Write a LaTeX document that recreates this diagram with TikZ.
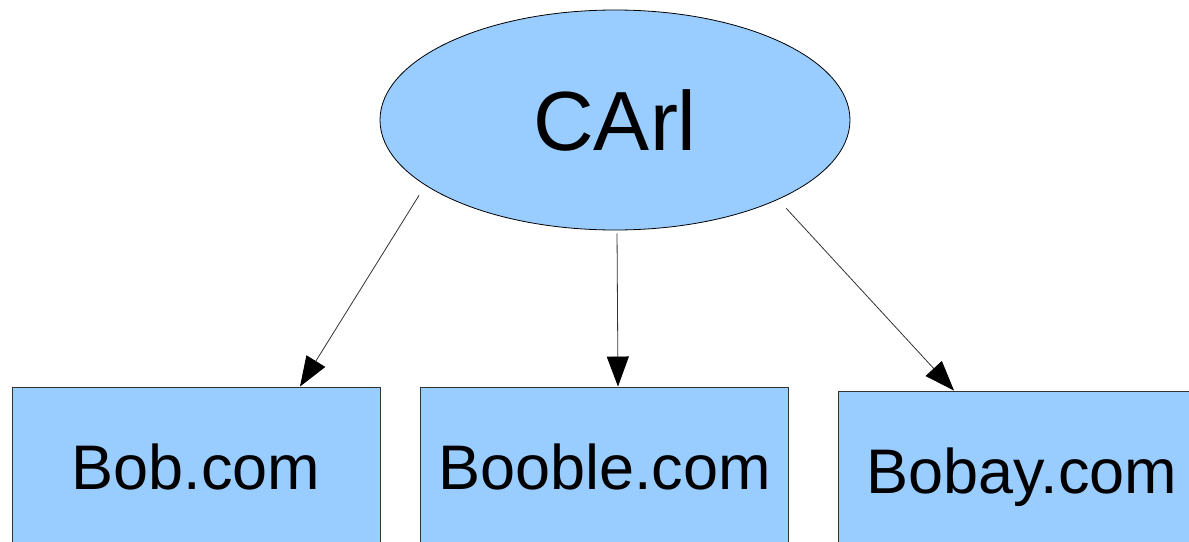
\documentclass[tikz,border=0pt]{standalone}
\usepackage{fontspec}
\setmainfont{Liberation Sans}
\usetikzlibrary{shapes.geometric,arrows.meta}

\definecolor{boxblue}{HTML}{99CCFF}

\begin{document}
\begin{tikzpicture}[x=1pt,y=-1pt,
    boss/.style={ellipse,draw=black,fill=boxblue,line width=0.8pt,
        minimum width=470pt,minimum height=220pt,inner sep=0pt,
        font=\fontsize{84}{90}\selectfont},
    site/.style={rectangle,draw=black!80,fill=boxblue,line width=0.9pt,
        minimum width=368pt,minimum height=160pt,inner sep=0pt,text depth=0pt,
        font=\fontsize{63}{70}\selectfont},
    link/.style={draw=black!80,line width=0.8pt,
        -{Triangle[length=30pt,width=22pt,color=black]}}]
  \useasboundingbox (0,0) rectangle (1189,541);

  \node[boss] (carl) at (615,120) {CArl};

  \node[site] (bob) at (196,467) {Bob.com};
  \node[site] (booble) at (604.5,467) {Booble.com};
  \node[site] (bobay) at (1022,471) {Bobay.com};

  \draw[link,shorten <=11.7pt] (carl.199.4) -- ([xshift=104pt]bob.north);
  \draw[link,shorten <=3pt] ([xshift=2pt]carl.south) -- ([xshift=13.5pt]booble.north);
  \draw[link,shorten <=11.8pt] (carl.334.1) -- ([xshift=-68pt]bobay.north);
\end{tikzpicture}
\end{document}
